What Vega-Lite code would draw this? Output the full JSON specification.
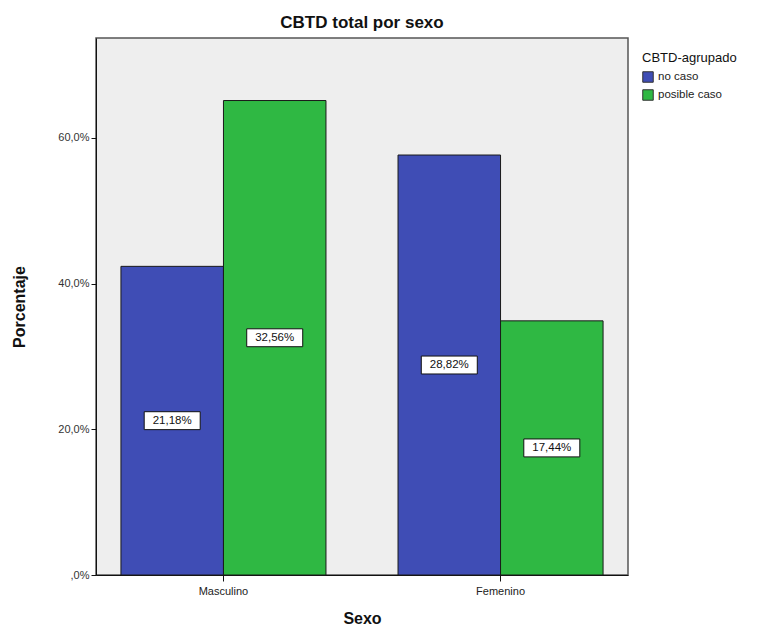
{
  "$schema": "https://vega.github.io/schema/vega-lite/v6.json",
  "autosize": "none",
  "width": 532,
  "height": 537,
  "padding": {"left": 96, "top": 38, "right": 143, "bottom": 55},
  "background": "white",
  "config": {
    "font": "Liberation Sans",
    "view": {"fill": "#eeeeee", "stroke": "#555555", "strokeWidth": 1.5}
  },
  "title": {
    "text": "CBTD total por sexo",
    "fontSize": 17,
    "fontWeight": "bold",
    "font": "Liberation Sans",
    "color": "#111111",
    "anchor": "middle",
    "offset": 6
  },
  "data": {
    "values": [
      {"Sexo": "Masculino", "grupo": "no caso", "pct": 42.36, "etiqueta": "21,18%"},
      {"Sexo": "Masculino", "grupo": "posible caso", "pct": 65.12, "etiqueta": "32,56%"},
      {"Sexo": "Femenino", "grupo": "no caso", "pct": 57.64, "etiqueta": "28,82%"},
      {"Sexo": "Femenino", "grupo": "posible caso", "pct": 34.88, "etiqueta": "17,44%"}
    ]
  },
  "transform": [{"calculate": "datum.pct / 2", "as": "mid"}],
  "encoding": {
    "x": {
      "field": "Sexo",
      "type": "nominal",
      "sort": ["Masculino", "Femenino"],
      "scale": {"paddingInner": 0.26, "paddingOuter": 0.09},
      "axis": {
        "title": "Sexo",
        "titleFont": "Liberation Sans",
        "titleFontSize": 16,
        "titleFontWeight": "bold",
        "titleColor": "#111111",
        "titlePadding": 14,
        "labelAngle": 0,
        "labelFontSize": 11,
        "labelColor": "#222222",
        "labelPadding": 4,
        "domainColor": "#111111",
        "tickColor": "#111111",
        "tickSize": 6
      }
    },
    "xOffset": {
      "field": "grupo",
      "type": "nominal",
      "sort": ["no caso", "posible caso"],
      "scale": {"paddingInner": 0, "paddingOuter": 0}
    }
  },
  "layer": [
    {
      "mark": {"type": "bar", "stroke": "#1a1a1a", "strokeWidth": 1},
      "encoding": {
        "y": {
          "field": "pct",
          "type": "quantitative",
          "scale": {"domain": [0, 73.7], "nice": false},
          "axis": {
            "title": "Porcentaje",
            "titleFont": "Liberation Sans",
            "titleFontSize": 16,
            "titleFontWeight": "bold",
            "titleColor": "#111111",
            "titlePadding": 30,
            "values": [0, 20, 40, 60],
            "labelExpr": "datum.value == 0 ? ',0%' : replace(format(datum.value, '.1f'), '.', ',') + '%'",
            "labelFontSize": 11,
            "labelColor": "#333333",
            "labelPadding": 2,
            "grid": false,
            "domainColor": "#111111",
            "tickColor": "#111111",
            "tickSize": 5
          }
        },
        "color": {
          "field": "grupo",
          "type": "nominal",
          "sort": ["no caso", "posible caso"],
          "scale": {"domain": ["no caso", "posible caso"], "range": ["#3f4db5", "#2fb843"]},
          "legend": {
            "title": "CBTD-agrupado",
            "titleFont": "Liberation Sans",
            "titleFontSize": 13,
            "titleFontWeight": "normal",
            "titleColor": "#111111",
            "labelFontSize": 11.5,
            "labelColor": "#222222",
            "symbolType": "square",
            "symbolSize": 110,
            "symbolStrokeColor": "#333333",
            "symbolStrokeWidth": 1,
            "rowPadding": 2,
            "titlePadding": 6,
            "orient": "none",
            "legendX": 546,
            "legendY": 14
          }
        }
      }
    },
    {
      "mark": {
        "type": "point",
        "shape": "M-1,-0.32H1V0.32H-1Z",
        "size": 3136,
        "filled": true,
        "fill": "white",
        "stroke": "#111111",
        "strokeWidth": 1,
        "opacity": 1
      },
      "encoding": {
        "y": {"field": "mid", "type": "quantitative"}
      }
    },
    {
      "mark": {"type": "text", "fontSize": 11.5, "color": "#111111", "baseline": "middle", "align": "center"},
      "encoding": {
        "y": {"field": "mid", "type": "quantitative"},
        "text": {"field": "etiqueta"}
      }
    }
  ]
}
